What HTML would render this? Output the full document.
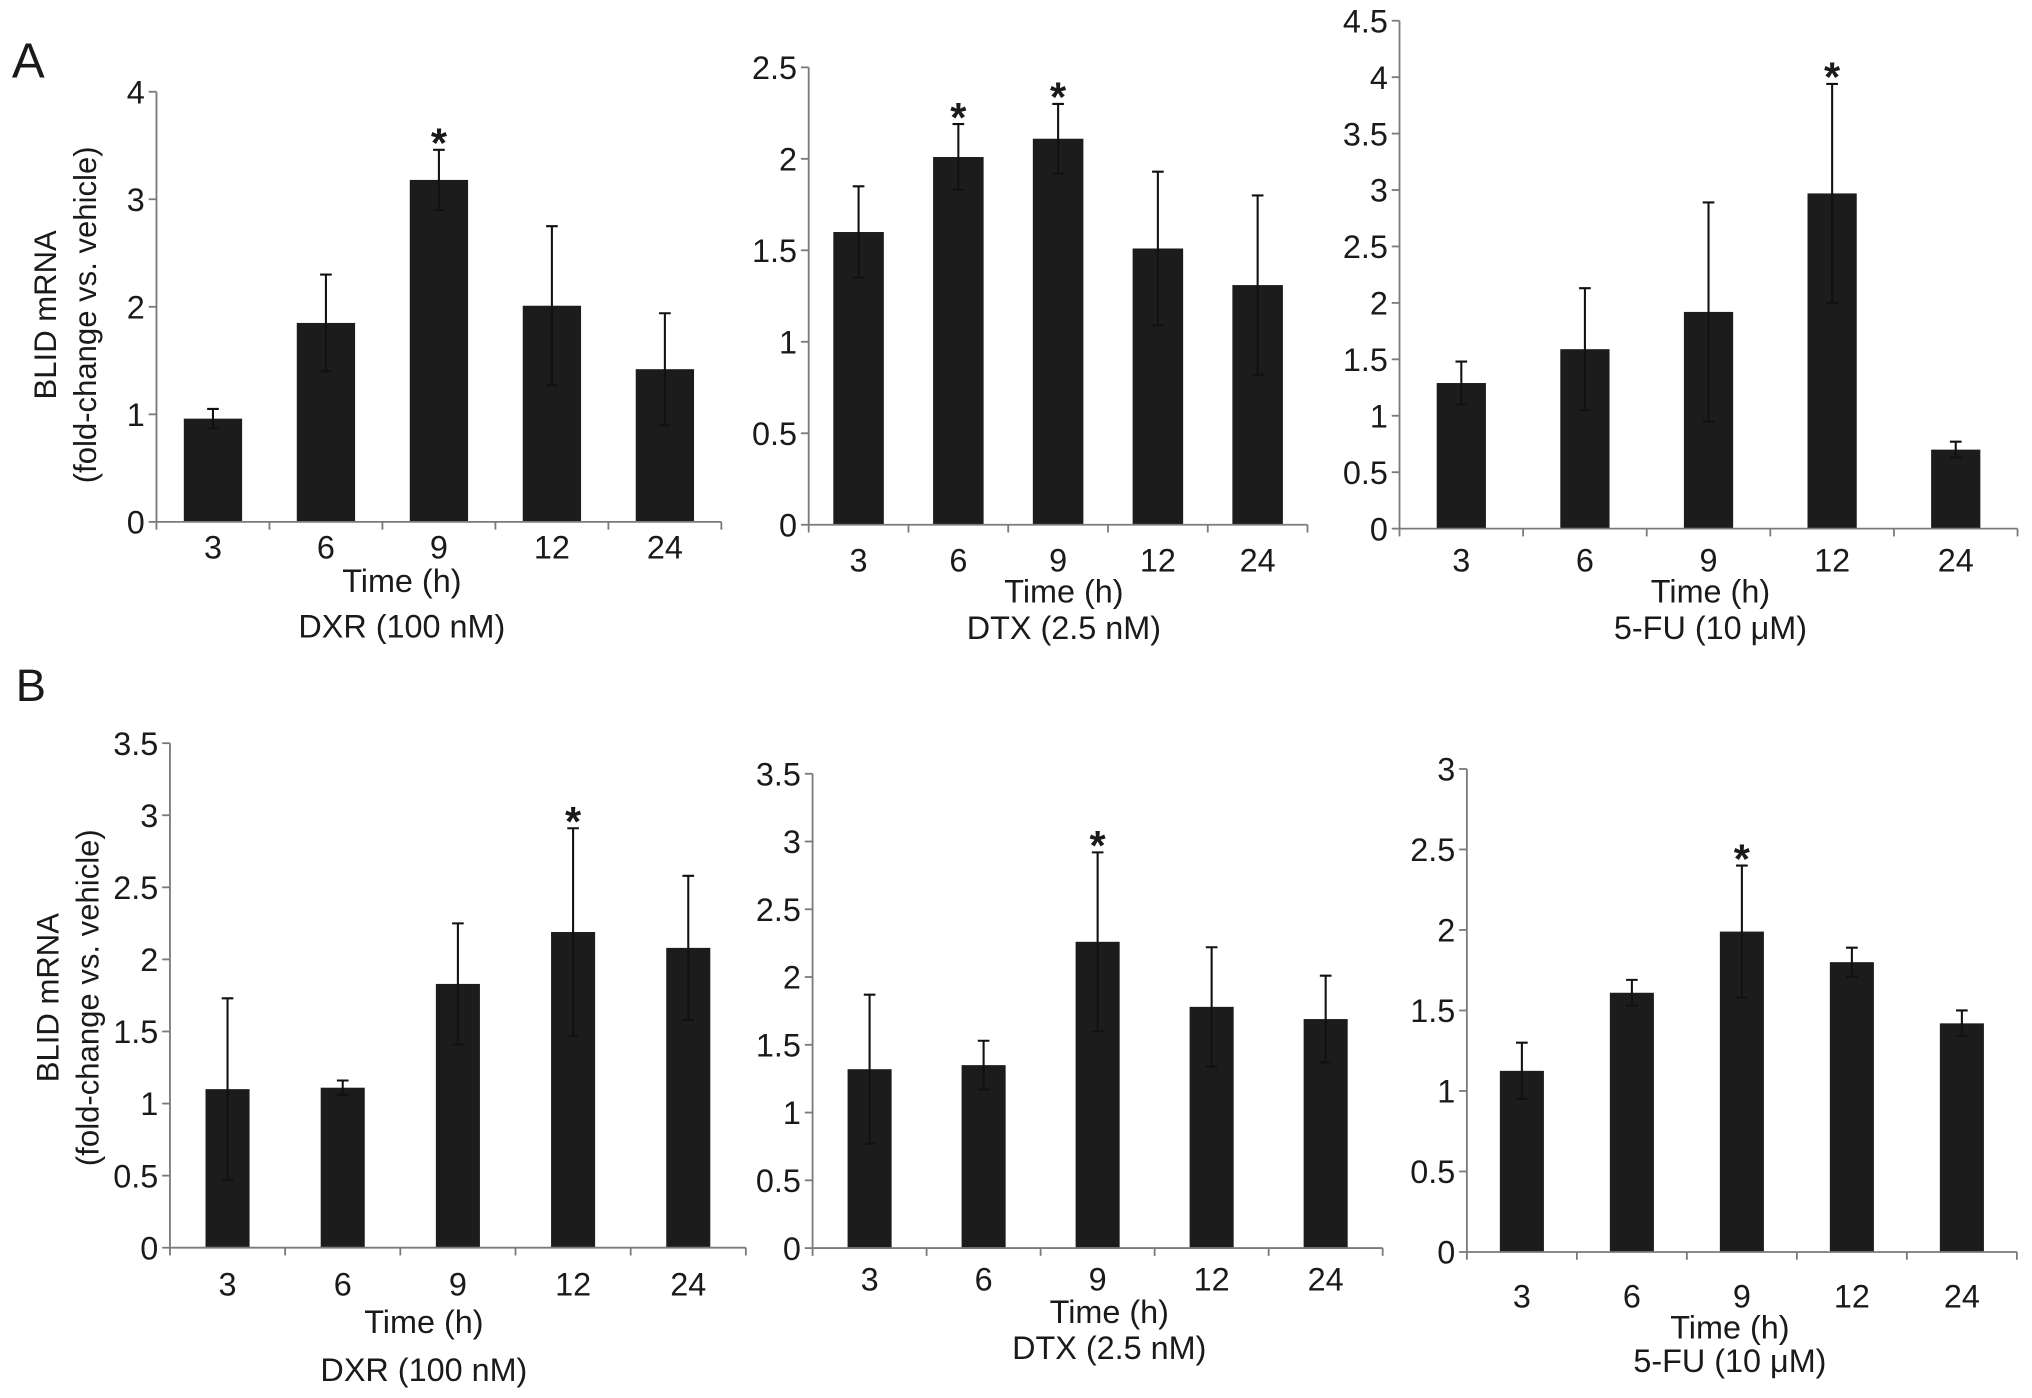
<!DOCTYPE html>
<html><head><meta charset="utf-8">
<style>
html,body{margin:0;padding:0;background:#fff;}
svg{display:block;}
text{font-family:"Liberation Sans",Arial,sans-serif;fill:#1a1a1a;}
</style></head>
<body>
<svg id="fig" width="2032" height="1398" viewBox="0 0 1568 1079" xmlns="http://www.w3.org/2000/svg">
<text x="9" y="60" font-size="38">A</text>
<text x="12" y="541" font-size="35">B</text>
<g transform="translate(43,243) rotate(-90)">
<text x="0" y="0" font-size="24" text-anchor="middle">BLID mRNA</text>
<text x="0" y="31" font-size="24" text-anchor="middle">(fold-change vs. vehicle)</text>
</g>
<g transform="translate(45,770) rotate(-90)">
<text x="0" y="0" font-size="24" text-anchor="middle">BLID mRNA</text>
<text x="0" y="31" font-size="24" text-anchor="middle">(fold-change vs. vehicle)</text>
</g>
</svg>
<script>
const categories = ["3","6","9","12","24"];
// Panel A
const a1Values = [0.96,1.85,3.18,2.01,1.42];
const a1Errors = [0.09,0.45,0.28,0.74,0.52];
const a1Stars = [false,false,true,false,false];
const a1Ticks = ["0","1","2","3","4"];
const a2Values = [1.60,2.01,2.11,1.51,1.31];
const a2Errors = [0.25,0.18,0.19,0.42,0.49];
const a2Stars = [false,true,true,false,false];
const a2Ticks = ["0","0.5","1","1.5","2","2.5"];
const a3Values = [1.29,1.59,1.92,2.97,0.70];
const a3Errors = [0.19,0.54,0.97,0.97,0.07];
const a3Stars = [false,false,false,true,false];
const a3Ticks = ["0","0.5","1","1.5","2","2.5","3","3.5","4","4.5"];
// Panel B
const b1Values = [1.10,1.11,1.83,2.19,2.08];
const b1Errors = [0.63,0.05,0.42,0.72,0.50];
const b1Stars = [false,false,false,true,false];
const b1Ticks = ["0","0.5","1","1.5","2","2.5","3","3.5"];
const b2Values = [1.32,1.35,2.26,1.78,1.69];
const b2Errors = [0.55,0.18,0.66,0.44,0.32];
const b2Stars = [false,false,true,false,false];
const b2Ticks = ["0","0.5","1","1.5","2","2.5","3","3.5"];
const b3Values = [1.125,1.61,1.99,1.80,1.42];
const b3Errors = [0.175,0.08,0.41,0.09,0.08];
const b3Stars = [false,false,true,false,false];
const b3Ticks = ["0","0.5","1","1.5","2","2.5","3"];

const NS = "http://www.w3.org/2000/svg";
const svg = document.getElementById("fig");
function mk(tag, attrs, parent){
  const e = document.createElementNS(NS, tag);
  for (const k in attrs) e.setAttribute(k, attrs[k]);
  parent.appendChild(e);
  return e;
}
const FS = 25;
const panels = [
  {id:"a1", vals:a1Values, errs:a1Errors, stars:a1Stars, ticks:a1Ticks, step:1, x0:120.6, band:87.2, bw:45, y0:402.8, yTop:70.8, labY:431, timeX:310, timeY:457, drug:"DXR (100 nM)", drugY:492},
  {id:"a2", vals:a2Values, errs:a2Errors, stars:a2Stars, ticks:a2Ticks, step:0.5, x0:624, band:77, bw:39, y0:405, yTop:52, labY:441, timeX:821, timeY:465, drug:"DTX (2.5 nM)", drugY:493},
  {id:"a3", vals:a3Values, errs:a3Errors, stars:a3Stars, ticks:a3Ticks, step:0.5, x0:1080, band:95.4, bw:38, y0:408, yTop:16, labY:441, timeX:1320, timeY:465, drug:"5-FU (10 \u03BCM)", drugY:493},
  {id:"b1", vals:b1Values, errs:b1Errors, stars:b1Stars, ticks:b1Ticks, step:0.5, x0:131, band:88.9, bw:34, y0:963, yTop:573.6, labY:1000, timeX:327, timeY:1029, drug:"DXR (100 nM)", drugY:1066},
  {id:"b2", vals:b2Values, errs:b2Errors, stars:b2Stars, ticks:b2Ticks, step:0.5, x0:627, band:88, bw:34, y0:963.3, yTop:597.2, labY:996, timeX:856, timeY:1021, drug:"DTX (2.5 nM)", drugY:1049},
  {id:"b3", vals:b3Values, errs:b3Errors, stars:b3Stars, ticks:b3Ticks, step:0.5, x0:1132, band:84.9, bw:34, y0:966.3, yTop:593.5, labY:1009, timeX:1335, timeY:1033, drug:"5-FU (10 \u03BCM)", drugY:1059}
];
panels.forEach(p => {
  const g = mk("g", {}, svg);
  
  
  const maxV = (p.ticks.length - 1) * p.step;
  const y = v => p.y0 - (v / maxV) * (p.y0 - p.yTop);
  const xC = i => p.x0 + p.band * (i + 0.5);
  const xEnd = p.x0 + p.band * categories.length;
  p.vals.forEach((v, i) => {
    const r = mk("rect", {x: xC(i) - p.bw/2, y: y(v), width: p.bw, height: p.y0 - y(v), fill: "#1c1c1c"}, g);
    
    
    const hi = y(v + p.errs[i]), lo = y(v - p.errs[i]);
    const eb = mk("path", {d: `M${xC(i)},${hi}V${lo}M${xC(i)-4.5},${hi}H${xC(i)+4.5}M${xC(i)-4.5},${lo}H${xC(i)+4.5}`, stroke: "#111", "stroke-width": 1.6, fill: "none"}, g);
    
    
    if (p.stars[i]) {
      const s = mk("text", {x: xC(i), y: hi + 6, "font-size": 32, "font-weight": "bold", "text-anchor": "middle"}, g);
      s.textContent = "*";
      
      
    }
    const lab = mk("text", {x: xC(i), y: p.labY, "font-size": FS, "text-anchor": "middle"}, g);
    lab.textContent = categories[i];
    
    
  });
  const ax = mk("path", {d: `M${p.x0},${p.yTop}V${p.y0}H${xEnd}`, stroke: "#7a7a7a", "stroke-width": 1.4, fill: "none"}, g);
  
  
  p.ticks.forEach((t, k) => {
    const ty = y(k * p.step);
    mk("line", {x1: p.x0 - 6, x2: p.x0, y1: ty, y2: ty, stroke: "#7a7a7a", "stroke-width": 1.4}, g);
    const tl = mk("text", {x: p.x0 - 9, y: ty + 9, "font-size": FS, "text-anchor": "end"}, g);
    tl.textContent = t;
    
    
  });
  for (let i = 0; i <= categories.length; i++) {
    const tx = p.x0 + p.band * i;
    mk("line", {x1: tx, x2: tx, y1: p.y0, y2: p.y0 + 6, stroke: "#7a7a7a", "stroke-width": 1.4}, g);
  }
  const tt = mk("text", {x: p.timeX, y: p.timeY, "font-size": FS, "text-anchor": "middle"}, g);
  tt.textContent = "Time (h)";
  
  
  const dt = mk("text", {x: p.timeX, y: p.drugY, "font-size": FS, "text-anchor": "middle"}, g);
  dt.textContent = p.drug;
  
  
});
</script>
</body></html>
